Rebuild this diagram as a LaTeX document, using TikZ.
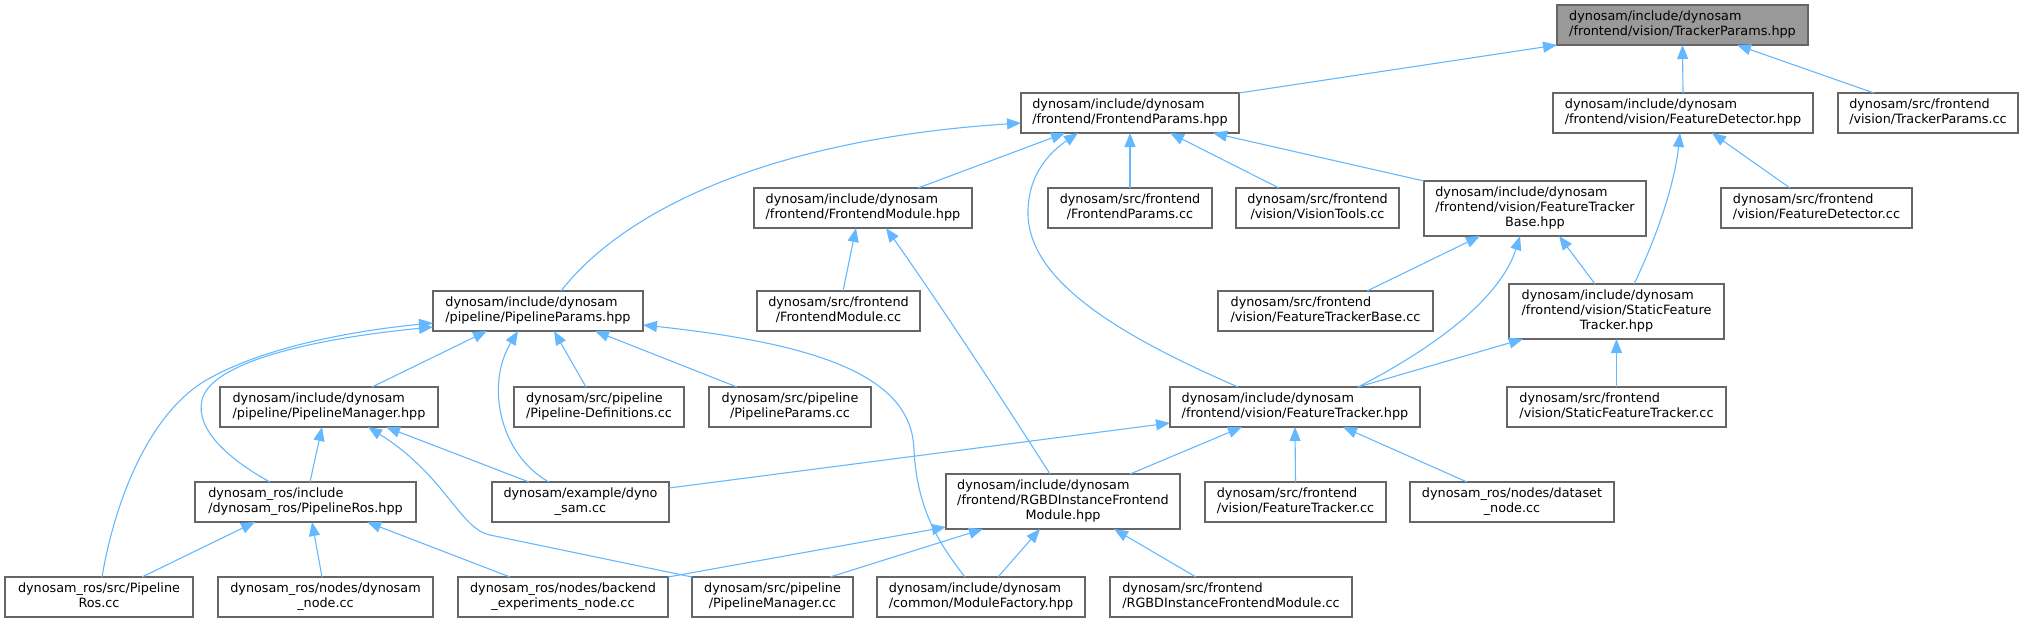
\documentclass[tikz,border=0pt]{standalone}
\usepackage{fontspec}
\setmainfont{DejaVu Sans}
\usetikzlibrary{arrows.meta,calc}
\definecolor{edgeblue}{HTML}{63B8FF}
\definecolor{boxline}{HTML}{666666}
\definecolor{topfill}{HTML}{999999}
\newcommand\twol[2]{\begin{tabular}{@{}l@{}}#1\\\multicolumn{1}{@{}c@{}}{#2}\end{tabular}}
\newcommand\threel[3]{\begin{tabular}{@{}l@{}}#1\\#2\\\multicolumn{1}{@{}c@{}}{#3}\end{tabular}}
% \fnode[style]{name}{x1}{y1}{x2}{y2}{text}
\newcommand\fnode[7][box]{\node[#1, minimum width={(#5-#3)*0.5pt}, minimum height={(#6-#4)*0.5pt}] (#2) at ({(#3+#5)/2},{(#4+#6)/2}) {#7};}
\tikzset{
  box/.style={draw=boxline, fill=white, line width=0.6pt, inner sep=0pt, outer sep=0pt,
    font=\fontsize{6.4}{7.5}\selectfont, text=black},
  topbox/.style={box, fill=topfill},
  dep/.style={draw=edgeblue, line width=0.55pt, -{Triangle[length=7pt,width=5.5pt]}}
}
\begin{document}
\begin{tikzpicture}[x=0.5pt,y=-0.5pt]
\useasboundingbox (0,0) rectangle (2025,623);
% nodes
\fnode[topbox]{TP}{1557}{5}{1808}{45}{\twol{dynosam/include/dynosam}{/frontend/vision/TrackerParams.hpp}}
\fnode{FP}{1021}{93}{1239}{133}{\twol{dynosam/include/dynosam}{/frontend/FrontendParams.hpp}}
\fnode{FD}{1553}{93}{1813}{133}{\twol{dynosam/include/dynosam}{/frontend/vision/FeatureDetector.hpp}}
\fnode{TPcc}{1838}{93}{2018}{133}{\twol{dynosam/src/frontend}{/vision/TrackerParams.cc}}
\fnode{FPcc}{1048}{188}{1212}{228}{\twol{dynosam/src/frontend}{/FrontendParams.cc}}
\fnode{VT}{1236}{188}{1399}{228}{\twol{dynosam/src/frontend}{/vision/VisionTools.cc}}
\fnode{FTB}{1424}{181}{1646}{236}{\threel{dynosam/include/dynosam}{/frontend/vision/FeatureTracker}{Base.hpp}}
\fnode{FDcc}{1721}{188}{1912}{228}{\twol{dynosam/src/frontend}{/vision/FeatureDetector.cc}}
\fnode{FM}{754}{188}{972}{228}{\twol{dynosam/include/dynosam}{/frontend/FrontendModule.hpp}}
\fnode{PP}{433}{291}{643}{331}{\twol{dynosam/include/dynosam}{/pipeline/PipelineParams.hpp}}
\fnode{FMcc}{757}{291}{920}{331}{\twol{dynosam/src/frontend}{/FrontendModule.cc}}
\fnode{FTBcc}{1218}{291}{1433}{331}{\twol{dynosam/src/frontend}{/vision/FeatureTrackerBase.cc}}
\fnode{SFT}{1509}{284}{1724}{339}{\threel{dynosam/include/dynosam}{/frontend/vision/StaticFeature}{Tracker.hpp}}
\fnode{PM}{220}{387}{438}{427}{\twol{dynosam/include/dynosam}{/pipeline/PipelineManager.hpp}}
\fnode{PD}{514}{387}{684}{427}{\twol{dynosam/src/pipeline}{/Pipeline-Definitions.cc}}
\fnode{PPcc}{709}{387}{871}{427}{\twol{dynosam/src/pipeline}{/PipelineParams.cc}}
\fnode{FT}{1170}{387}{1420}{427}{\twol{dynosam/include/dynosam}{/frontend/vision/FeatureTracker.hpp}}
\fnode{SFTcc}{1507}{387}{1726}{427}{\twol{dynosam/src/frontend}{/vision/StaticFeatureTracker.cc}}
\fnode{PRos}{195}{482}{416}{522}{\twol{dynosam\_ros/include}{/dynosam\_ros/PipelineRos.hpp}}
\fnode{DS}{492}{482}{669}{522}{\twol{dynosam/example/dyno}{\_sam.cc}}
\fnode{RGBD}{946}{474}{1180}{529}{\threel{dynosam/include/dynosam}{/frontend/RGBDInstanceFrontend}{Module.hpp}}
\fnode{FTcc}{1205}{482}{1386}{522}{\twol{dynosam/src/frontend}{/vision/FeatureTracker.cc}}
\fnode{DN}{1410}{482}{1614}{522}{\twol{dynosam\_ros/nodes/dataset}{\_node.cc}}
\fnode{PRcc}{5}{577}{193}{617}{\twol{dynosam\_ros/src/Pipeline}{Ros.cc}}
\fnode{DNode}{218}{577}{433}{617}{\twol{dynosam\_ros/nodes/dynosam}{\_node.cc}}
\fnode{BE}{458}{577}{668}{617}{\twol{dynosam\_ros/nodes/backend}{\_experiments\_node.cc}}
\fnode{PMcc}{692}{577}{853}{617}{\twol{dynosam/src/pipeline}{/PipelineManager.cc}}
\fnode{MF}{877}{577}{1085}{617}{\twol{dynosam/include/dynosam}{/common/ModuleFactory.hpp}}
\fnode{RGBDcc}{1110}{577}{1352}{617}{\twol{dynosam/src/frontend}{/RGBDInstanceFrontendModule.cc}}
% edges
\draw[dep] (FP.north east) -- (TP.south west);
\draw[dep] (FD.north) -- (TP.south);
\draw[dep] ($(TPcc.north west)+(36,0)$) -- ($(TP.south west)+(180,0)$);
\draw[dep] ($(PP.north west)+(128,0)$) .. controls (620,215) and (760,140) .. ($(FP.north west)+(0,30)$);
\draw[dep] ($(FM.north west)+(164,0)$) -- ($(FP.south west)+(44,0)$);
\draw[dep] ($(FT.north west)+(68,0)$) .. controls (1130,340) and (1030,285) .. (1028,215) .. controls (1027,175) and (1050,152) .. ($(FP.south west)+(57,0)$);
\draw[dep] (FPcc.north) -- (FP.south);
\draw[dep] ($(VT.north west)+(43,0)$) -- ($(FP.south west)+(149,0)$);
\draw[dep] (FTB.north west) -- ($(FP.south west)+(192,0)$);
\draw[dep] ($(SFT.north west)+(125,0)$) .. controls (1660,230) and (1675,180) .. ($(FD.south west)+(127,0)$);
\draw[dep] ($(FDcc.north west)+(69,0)$) -- ($(FD.south west)+(159,0)$);
\draw[dep] ($(FMcc.north west)+(86,0)$) -- ($(FM.south west)+(102,0)$);
\draw[dep] ($(RGBD.north west)+(104,0)$) .. controls (990,380) and (930,290) .. ($(FM.south west)+(132,0)$);
\draw[dep] ($(FTBcc.north west)+(149,0)$) -- ($(FTB.south west)+(56,0)$);
\draw[dep] ($(SFT.north west)+(86,0)$) -- ($(FTB.south west)+(135,0)$);
\draw[dep] ($(FT.north west)+(188,0)$) .. controls (1430,350) and (1500,300) .. ($(FTB.south west)+(96,0)$);
\draw[dep] ($(FT.north west)+(188,0)$) -- ($(SFT.south west)+(14,0)$);
\draw[dep] (SFTcc.north) -- (SFT.south);
\draw[dep] ($(PM.north west)+(152,0)$) -- ($(PP.south west)+(54,0)$);
\draw[dep] ($(PD.north west)+(72,0)$) -- ($(PP.south west)+(121,0)$);
\draw[dep] ($(PPcc.north west)+(28,0)$) -- ($(PP.south west)+(162,0)$);
\draw[dep] ($(DS.north west)+(57,0)$) .. controls (500,455) and (485,385) .. ($(PP.south west)+(85,0)$);
\draw[dep] ($(PRos.north west)+(75,0)$) .. controls (230,460) and (195,430) .. (202,400) .. controls (210,365) and (300,340) .. ($(PP.north west)+(0,36)$);
\draw[dep] ($(PRcc.north west)+(97,0)$) .. controls (115,500) and (150,410) .. (210,378) .. controls (270,345) and (360,330) .. ($(PP.north west)+(0,32)$);
\draw[dep] ($(MF.north west)+(88,0)$) .. controls (940,545) and (917,510) .. (914,450) .. controls (912,380) and (830,345) .. ($(PP.north east)+(0,34)$);
\draw[dep] ($(PRos.north west)+(115,0)$) -- ($(PM.south west)+(102,0)$);
\draw[dep] ($(DS.north west)+(37,0)$) -- ($(PM.south west)+(166,0)$);
\draw[dep] (PMcc.north west) -- (490,535) .. controls (460,529) and (445,475) .. ($(PM.south west)+(148,0)$);
\draw[dep] ($(DS.north east)+(0,6)$) -- ($(FT.north west)+(0,36)$);
\draw[dep] ($(RGBD.north west)+(184,0)$) -- ($(FT.south west)+(72,0)$);
\draw[dep] (FTcc.north) -- (FT.south);
\draw[dep] ($(DN.north west)+(57,0)$) -- ($(FT.south west)+(173,0)$);
\draw[dep] ($(PRcc.north west)+(137,0)$) -- ($(PRos.south west)+(60,0)$);
\draw[dep] ($(DNode.north west)+(104,0)$) -- ($(PRos.south west)+(117,0)$);
\draw[dep] ($(BE.north west)+(52,0)$) -- ($(PRos.south west)+(172,0)$);
\draw[dep] (BE.north east) -- ($(RGBD.north west)+(0,53)$);
\draw[dep] ($(PMcc.north west)+(138,0)$) -- ($(RGBD.south west)+(37,0)$);
\draw[dep] ($(MF.north west)+(121,0)$) -- ($(RGBD.south west)+(94,0)$);
\draw[dep] ($(RGBDcc.north west)+(86,0)$) -- ($(RGBD.south west)+(168,0)$);
\end{tikzpicture}
\end{document}
